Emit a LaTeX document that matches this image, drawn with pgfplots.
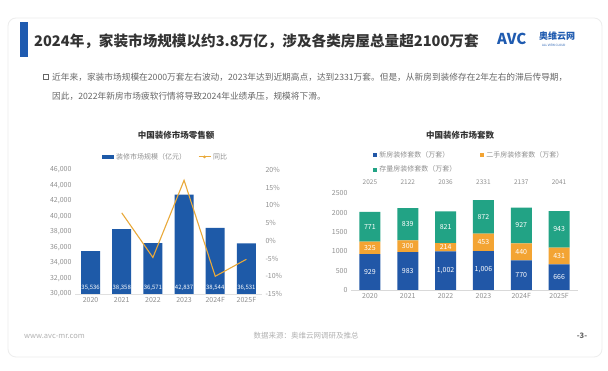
\documentclass[border=0pt]{standalone}
\usepackage{fontspec}
\setmainfont{Noto Sans CJK SC}
\usepackage{pgfplots}
\pgfplotsset{compat=1.18}
\definecolor{barblue}{HTML}{1E5AA8}
\definecolor{lineorg}{HTML}{E9A93A}
\definecolor{newblue}{HTML}{2157A7}
\definecolor{secorg}{HTML}{F3A433}
\definecolor{stockgreen}{HTML}{22A385}
\definecolor{ticktxt}{HTML}{909090}
\definecolor{titletxt}{HTML}{333333}
\definecolor{bodytxt}{HTML}{666666}
\definecolor{logoblue}{HTML}{1F5BB0}
\pgfplotsset{
  common/.style={
    scale only axis, xmin=-0.5, xmax=5.5,
    tick label style={font=\fontsize{7}{8}\selectfont, text=ticktxt},
    major tick length=0pt,
    xtick={0,...,5}, xticklabels={2020,2021,2022,2023,2024F,2025F},
    scaled y ticks=false,
    /pgf/number format/assume math mode=true,
  }
}
\begin{document}
\begin{tikzpicture}
\begin{scope}[x=1pt,y=1pt]
\fill[white] (0,0) rectangle (608,371);
\draw[draw=black!7, line width=0.8pt, rounded corners=8pt] (8,14) rectangle (602,353);
% title
\fill[logoblue] (20,314) rectangle (28,349);
\node[anchor=west, inner sep=0pt, text=titletxt, font=\fontsize{14.6}{18}\selectfont\bfseries] at (34,330) {2024年，家装市场规模以约3.8万亿，涉及各类房屋总量超2100万套};
% logo
\node[anchor=west, inner sep=0pt, text=logoblue, font=\fontsize{15}{16}\selectfont\bfseries] at (497,332) {AVC};
\node[anchor=west, inner sep=0pt, text=logoblue, font=\fontsize{9}{10}\selectfont\bfseries] at (539,335) {奥维云网};
\node[anchor=west, inner sep=0pt, text=logoblue, font=\fontsize{3}{4}\selectfont] at (542,326) {ALL VIEW CLOUD};
% bullet text
\draw[bodytxt, line width=0.9pt] (43.5,291.5) rectangle (48.5,296.5);
\node[anchor=west, inner sep=0pt, text=bodytxt, font=\fontsize{8.7}{10}\selectfont] at (52,294) {近年来，家装市场规模在2000万套左右波动，2023年达到近期高点，达到2331万套。但是，从新房到装修存在2年左右的滞后传导期，};
\node[anchor=west, inner sep=0pt, text=bodytxt, font=\fontsize{8.7}{10}\selectfont] at (52,275) {因此，2022年新房市场疲软行情将导致2024年业绩承压，规模将下滑。};
% chart titles
\node[text=titletxt, font=\fontsize{8.5}{10}\selectfont\bfseries] at (176,236) {中国装修市场零售额};
\node[text=titletxt, font=\fontsize{8.5}{10}\selectfont\bfseries] at (460,236) {中国装修市场套数};
% footer
\node[anchor=west, inner sep=0pt, text=black!30, font=\fontsize{7.5}{9}\selectfont] at (24,35) {www.avc-mr.com};
\node[inner sep=0pt, text=black!30, font=\fontsize{7.5}{9}\selectfont] at (306,35) {数据来源：奥维云网调研及推总};
\node[inner sep=0pt, text=black!60, font=\fontsize{7.5}{9}\selectfont\bfseries] at (582,35) {-3-};
\end{scope}

% ---------- left chart: bars ----------
\begin{axis}[common,
  at={(75pt,77pt)}, anchor=south west, width=187pt, height=124pt,
  ymin=30000, ymax=46000, ytick={30000,32000,...,46000},
  yticklabel style={/pgf/number format/.cd, fixed, 1000 sep={,}},
  axis x line*=bottom, axis y line*=left,
  x axis line style={draw=black!12}, y axis line style={draw=none},
  legend columns=2,
  legend style={at={(0.484,1.105)}, anchor=center, draw=none, fill=none,
    font=\fontsize{7}{8}\selectfont, text=ticktxt,
    /tikz/every even column/.append style={column sep=10pt}},
]
\addplot[ybar, bar width=19pt, fill=barblue, draw=none,
  legend image code/.code={\fill[barblue] (0pt,-1.6pt) rectangle (12pt,1.6pt);}]
  coordinates {(0,35536) (1,38358) (2,36571) (3,42837) (4,38544) (5,36531)};
\addlegendentry{装修市场规模（亿元）}
\addplot[forget plot, draw=none, mark=none, nodes near coords, point meta=explicit symbolic,
  nodes near coords style={anchor=center, text=white, font=\fontsize{6}{7}\selectfont}]
  coordinates {(0,30800)[35,536] (1,30800)[38,358] (2,30800)[36,571] (3,30800)[42,837] (4,30800)[38,544] (5,30800)[36,531]};
\addlegendimage{legend image code/.code={\draw[lineorg, line width=1pt] (0pt,0pt) -- (12pt,0pt); \fill[lineorg] (6pt,0pt) circle (1.2pt);}}
\addlegendentry{同比}
\end{axis}
% ---------- left chart: yoy line ----------
\begin{axis}[common,
  at={(75pt,77pt)}, anchor=south west, width=187pt, height=124pt,
  ymin=-15, ymax=20, ytick={-15,-10,...,20},
  yticklabel={\pgfmathprintnumber{\tick}\%},
  axis y line*=right, axis x line=none, y axis line style={draw=none},
]
\addplot[lineorg, line width=1.1pt, mark=none]
  coordinates {(1,7.9) (2,-4.7) (3,17.1) (4,-10.0) (5,-5.2)};
\end{axis}

% ---------- right chart ----------
\begin{axis}[common,
  at={(351pt,81pt)}, anchor=south west, width=227pt, height=96.5pt,
  ybar stacked, bar width=21pt,
  ymin=0, ymax=2500, ytick={0,500,...,2500},
  yticklabel style={/pgf/number format/.cd, fixed, 1000 sep={}},
  axis x line*=bottom, axis y line*=left,
  x axis line style={draw=black!15}, y axis line style={draw=none},
  legend columns=2,
  legend cell align=left,
  legend style={at={(0.085,1.48)}, anchor=north west, draw=none, fill=none,
    font=\fontsize{7}{8}\selectfont, text=ticktxt,
    /tikz/every even column/.append style={column sep=22pt},
    /tikz/row sep=3pt},
]
\addplot[fill=newblue, draw=none, legend image code/.code={\fill[newblue] (0pt,-2pt) rectangle (4pt,2pt);}]
  coordinates {(0,929) (1,983) (2,1002) (3,1006) (4,770) (5,666)};
\addlegendentry{新房装修套数（万套）}
\addplot[fill=secorg, draw=none, legend image code/.code={\fill[secorg] (0pt,-2pt) rectangle (4pt,2pt);}]
  coordinates {(0,325) (1,300) (2,214) (3,453) (4,440) (5,431)};
\addlegendentry{二手房装修套数（万套）}
\addplot[fill=stockgreen, draw=none, legend image code/.code={\fill[stockgreen] (0pt,-2pt) rectangle (4pt,2pt);}]
  coordinates {(0,771) (1,839) (2,821) (3,872) (4,927) (5,943)};
\addlegendentry{存量房装修套数（万套）}
\end{axis}
% labels overlay
\begin{axis}[common,
  at={(351pt,81pt)}, anchor=south west, width=227pt, height=96.5pt,
  ymin=0, ymax=2500, hide axis, clip=false,
]
\addplot[draw=none, mark=none, nodes near coords, point meta=explicit symbolic,
  nodes near coords style={anchor=center, text=white, font=\fontsize{7}{8}\selectfont}]
  coordinates {(0,464.5)[929] (1,491.5)[983] (2,501)[1,002] (3,540)[1,006] (4,385)[770] (5,333)[666]};
\addplot[draw=none, mark=none, nodes near coords, point meta=explicit symbolic,
  nodes near coords style={anchor=center, text=white, font=\fontsize{7}{8}\selectfont}]
  coordinates {(0,1091.5)[325] (1,1133)[300] (2,1109)[214] (3,1232.5)[453] (4,990)[440] (5,881.5)[431]};
\addplot[draw=none, mark=none, nodes near coords, point meta=explicit symbolic,
  nodes near coords style={anchor=center, text=white, font=\fontsize{7}{8}\selectfont}]
  coordinates {(0,1639.5)[771] (1,1702.5)[839] (2,1626.5)[821] (3,1895)[872] (4,1673.5)[927] (5,1568.5)[943]};
\addplot[draw=none, mark=none, nodes near coords, point meta=explicit symbolic,
  nodes near coords style={anchor=center, text=ticktxt, font=\fontsize{6.5}{8}\selectfont}]
  coordinates {(0,2800)[2025] (1,2800)[2122] (2,2800)[2036] (3,2800)[2331] (4,2800)[2137] (5,2800)[2041]};
\end{axis}
\end{tikzpicture}
\end{document}
